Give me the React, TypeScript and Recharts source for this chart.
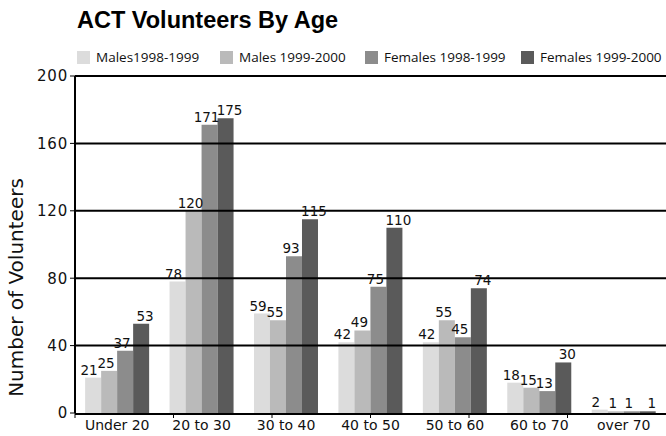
import { BarChart, Bar, XAxis, YAxis, ReferenceLine, LabelList } from "recharts";

const categories = ["Under 20", "20 to 30", "30 to 40", "40 to 50", "50 to 60", "60 to 70", "over 70"];
const males9899 = [21, 78, 59, 42, 42, 18, 2];
const males9900 = [25, 120, 55, 49, 55, 15, 1];
const females9899 = [37, 171, 93, 75, 45, 13, 1];
const females9900 = [53, 175, 115, 110, 74, 30, 1];
const yTicks = [0, 40, 80, 120, 160, 200];
const boundaryTicks = [0, 1, 2, 3, 4, 5, 6, 7];

const series = [
  { key: "m98", name: "Males1998-1999", color: "#dcdcdc", left: 77, dx: -4 },
  { key: "m99", name: "Males 1999-2000", color: "#bababa", left: 220, dx: -3 },
  { key: "f98", name: "Females 1998-1999", color: "#8c8c8c", left: 365, dx: -3 },
  { key: "f99", name: "Females 1999-2000", color: "#5a5a5a", left: 521, dx: 4 },
];

const data = categories.map((c, i) => ({
  age: c,
  m98: males9899[i],
  m99: males9900[i],
  f98: females9899[i],
  f99: females9900[i],
}));

const wideFont = "'DejaVu Sans', sans-serif";
const legendFont = "'Open Sans', sans-serif";

export default function App() {
  return (
    <div style={{ position: "absolute", left: 0, top: 0, width: 666, height: 436, background: "#fff" }}>
      <div
        style={{
          position: "absolute",
          left: 77,
          top: 7,
          fontFamily: "'Liberation Sans', Arial, sans-serif",
          fontWeight: 700,
          fontSize: 23.5,
          color: "#000",
          whiteSpace: "nowrap",
        }}
      >
        ACT Volunteers By Age
      </div>
      {series.map((s) => (
        <div
          key={s.key}
          style={{
            position: "absolute",
            left: s.left,
            top: 48,
            display: "flex",
            alignItems: "center",
            fontFamily: legendFont,
            fontSize: 13.5,
            color: "#111",
            whiteSpace: "nowrap",
            lineHeight: "18px",
          }}
        >
          <span style={{ width: 13, height: 13, background: s.color, marginRight: 6, display: "inline-block" }} />
          {s.name}
        </div>
      ))}
      <BarChart
        width={666}
        height={436}
        data={data}
        margin={{ top: 76, right: 0, bottom: 0, left: 0 }}
        barCategoryGap="12%"
        barGap={0}
      >
        {/* boundary tick marks between the age groups */}
        <XAxis
          xAxisId="a"
          type="number"
          domain={[0, 7]}
          ticks={boundaryTicks}
          allowDataOverflow
          height={1}
          axisLine={false}
          tick={{ fontSize: 1, fill: "none" }}
          tickFormatter={() => " "}
          tickLine={{ stroke: "#000", strokeWidth: 1 }}
          tickSize={5}
        />
        <XAxis
          xAxisId="b"
          dataKey="age"
          height={22}
          axisLine={{ stroke: "#000", strokeWidth: 2 }}
          tickLine={false}
          tick={{ fill: "#111", fontSize: 14, fontFamily: wideFont }}
          dy={-2}
        />
        <YAxis
          domain={[0, 200]}
          ticks={yTicks}
          width={75}
          axisLine={{ stroke: "#000", strokeWidth: 2 }}
          tickLine={{ stroke: "#000" }}
          tickSize={5}
          tick={{ fill: "#111", fontSize: 15, fontFamily: wideFont, letterSpacing: 0.8 }}
          label={{
            value: "Number of Volunteers",
            angle: -90,
            position: "insideLeft",
            dx: 11,
            dy: 43,
            style: { textAnchor: "middle", fill: "#111", fontSize: 20, fontFamily: wideFont },
          }}
        />
        {series.map((s) => (
          <Bar key={s.key} xAxisId="b" dataKey={s.key} name={s.name} fill={s.color} isAnimationActive={false}>
            <LabelList
              dataKey={s.key}
              position="top"
              offset={3}
              dx={s.dx}
              style={{ fill: "#111", fontSize: 13.5, fontFamily: wideFont }}
            />
          </Bar>
        ))}
        {yTicks.slice(1).map((t) => (
          <ReferenceLine key={t} xAxisId="b" y={t} stroke="#000" strokeWidth={2} />
        ))}
      </BarChart>
    </div>
  );
}
